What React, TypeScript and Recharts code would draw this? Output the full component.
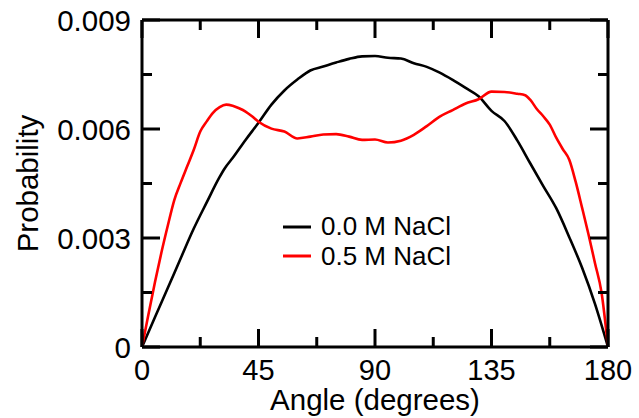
import { LineChart, Line, XAxis, YAxis, Legend } from "recharts";

const FONT = "'Liberation Sans', Arial, sans-serif";

// angle in degrees, probability
const angles0 = [
  0, 5, 10, 15, 20, 25, 30, 32, 35, 40, 45, 50, 55, 60, 65, 70, 75, 80, 85, 90,
  95, 100, 105, 110, 115, 120, 125, 130, 135, 140, 145, 150, 155, 160, 165, 170,
  175, 180,
];
const prob0 = [
  0, 0.00082, 0.00163, 0.00245, 0.00326, 0.00398, 0.00468, 0.00492, 0.0052,
  0.0057, 0.00617, 0.00667, 0.00706, 0.00736, 0.00761, 0.00772, 0.00783,
  0.00793, 0.008, 0.00801, 0.00796, 0.00794, 0.00781, 0.00771, 0.00755,
  0.00735, 0.00713, 0.0069, 0.0065, 0.00622, 0.00568, 0.00505, 0.00443,
  0.00382, 0.00303, 0.00218, 0.00118, 0,
];

const angles5 = [
  0, 2.5, 5, 7.5, 10, 12.5, 15, 17.5, 20, 22.5, 25, 27.5, 30, 32.5, 35, 37.5,
  40, 42.5, 45, 50, 55, 60, 65, 70, 75, 80, 85, 90, 95, 100, 105, 110, 115,
  120, 125, 130, 135, 140, 145, 148, 150, 152.5, 155, 157.5, 160, 162.5, 165,
  167.5, 170, 172.5, 175, 177.5, 180,
];
const prob5 = [
  0, 0.0009, 0.00178, 0.0026, 0.00335, 0.00405, 0.00453, 0.00498, 0.00543,
  0.00593, 0.00621, 0.00645, 0.0066, 0.00667, 0.00664, 0.00657, 0.00648,
  0.00635, 0.0062, 0.00601, 0.00593, 0.00574, 0.00579, 0.00585, 0.00586,
  0.00579, 0.0057, 0.00571, 0.00563, 0.00568, 0.00584, 0.00608, 0.00634,
  0.00652, 0.0067, 0.00682, 0.00703, 0.00702, 0.00697, 0.00693, 0.0068,
  0.00655, 0.00635, 0.00612, 0.00576, 0.00545, 0.00516, 0.00455, 0.00383,
  0.00309, 0.0023, 0.0015, 0,
];

const xTicks = [0, 22.5, 45, 67.5, 90, 112.5, 135, 157.5, 180];
const yTicks = [0, 0.0015, 0.003, 0.0045, 0.006, 0.0075, 0.009];

const series = [
  { name: "0.0 M NaCl", color: "#000000", data: angles0.map((a, i) => ({ angle: a, p: prob0[i] })) },
  { name: "0.5 M NaCl", color: "#ff0000", data: angles5.map((a, i) => ({ angle: a, p: prob5[i] })) },
];

const isMajorX = (v: number) => v % 45 === 0;
const isMajorY = (v: number) => Math.round(v / 0.0015) % 2 === 0;
const fmtY = (v: number) => (v === 0 ? "0" : v.toFixed(3));

const MAJOR = 18;
const MINOR = 10;

function BottomTick({ x, y, payload }: any) {
  const major = isMajorX(payload.value);
  return (
    <g>
      <line x1={x} x2={x} y1={y} y2={y - (major ? MAJOR : MINOR)} stroke="#000" strokeWidth={3} />
      {major && (
        <text x={x} y={y + 33} textAnchor="middle" fontSize={29} fontFamily={FONT} fill="#000">
          {payload.value}
        </text>
      )}
    </g>
  );
}

function TopTick({ x, y, payload }: any) {
  const major = isMajorX(payload.value);
  return <line x1={x} x2={x} y1={y} y2={y + (major ? MAJOR : MINOR)} stroke="#000" strokeWidth={3} />;
}

function LeftTick({ x, y, payload }: any) {
  const major = isMajorY(payload.value);
  return (
    <g>
      <line x1={x} x2={x + (major ? MAJOR : MINOR)} y1={y} y2={y} stroke="#000" strokeWidth={3} />
      {major && (
        <text x={x - 11} y={y + 11} textAnchor="end" fontSize={29.5} fontFamily={FONT} fill="#000">
          {fmtY(payload.value)}
        </text>
      )}
    </g>
  );
}

function RightTick({ x, y, payload }: any) {
  const major = isMajorY(payload.value);
  return <line x1={x} x2={x - (major ? MAJOR : MINOR)} y1={y} y2={y} stroke="#000" strokeWidth={3} />;
}

function LegendBox() {
  return (
    <div style={{ fontFamily: FONT, fontSize: 26, color: "#000" }}>
      {series.map((s) => (
        <div key={s.name} style={{ display: "flex", alignItems: "center", height: 29.5 }}>
          <svg width={28} height={4} style={{ marginRight: 10 }}>
            <line x1={0} x2={28} y1={2} y2={2} stroke={s.color} strokeWidth={3} />
          </svg>
          <span style={{ lineHeight: "29px", whiteSpace: "nowrap" }}>{s.name}</span>
        </div>
      ))}
    </div>
  );
}

const frame = { stroke: "#000", strokeWidth: 3 };

export default function App() {
  return (
    <div style={{ position: "fixed", left: 0, top: 0, width: 639, height: 418, background: "#fff" }}>
      <LineChart width={639} height={418} margin={{ top: 19, right: 30, left: 0, bottom: 0 }}>
        <XAxis
          xAxisId="b"
          type="number"
          dataKey="angle"
          domain={[0, 180]}
          ticks={xTicks}
          interval={0}
          height={71}
          tickSize={0}
          tickMargin={0}
          axisLine={frame}
          tick={<BottomTick />}
          label={{
            value: "Angle (degrees)",
            position: "insideBottom",
            offset: 8,
            fontSize: 29.5,
            fontFamily: FONT,
            fill: "#000",
          }}
        />
        <XAxis
          xAxisId="t"
          orientation="top"
          type="number"
          dataKey="angle"
          domain={[0, 180]}
          ticks={xTicks}
          interval={0}
          height={1}
          tickSize={0}
          tickMargin={0}
          axisLine={frame}
          tick={<TopTick />}
        />
        <YAxis
          yAxisId="l"
          type="number"
          domain={[0, 0.009]}
          ticks={yTicks}
          interval={0}
          width={142}
          tickSize={0}
          tickMargin={0}
          axisLine={frame}
          tick={<LeftTick />}
          label={{
            value: "Probability",
            angle: -90,
            position: "insideLeft",
            offset: 28,
            style: { textAnchor: "middle" },
            fontSize: 29.5,
            fontFamily: FONT,
            fill: "#000",
          }}
        />
        <YAxis
          yAxisId="r"
          orientation="right"
          type="number"
          domain={[0, 0.009]}
          ticks={yTicks}
          interval={0}
          width={1}
          tickSize={0}
          tickMargin={0}
          axisLine={frame}
          tick={<RightTick />}
        />
        <Legend
          layout="horizontal"
          verticalAlign="middle"
          align="center"
          content={() => <LegendBox />}
          wrapperStyle={{ left: 283, top: 212, width: 200 }}
        />
        {/* invisible series so the mirrored axes get a scale */}
        <Line
          xAxisId="t"
          yAxisId="r"
          data={series[0].data}
          dataKey="p"
          stroke="none"
          dot={false}
          activeDot={false}
          legendType="none"
          isAnimationActive={false}
        />
        {series.map((s) => (
          <Line
            key={s.name}
            xAxisId="b"
            yAxisId="l"
            data={s.data}
            dataKey="p"
            name={s.name}
            type="monotone"
            stroke={s.color}
            strokeWidth={2.6}
            dot={false}
            activeDot={false}
            isAnimationActive={false}
          />
        ))}
      </LineChart>
    </div>
  );
}
